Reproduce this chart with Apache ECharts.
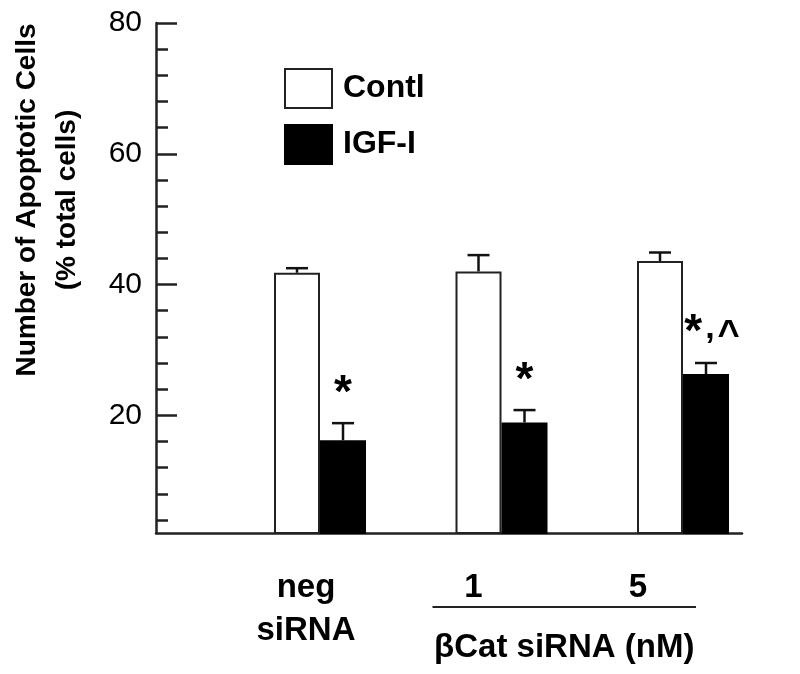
<!DOCTYPE html>
<html><head><meta charset="utf-8">
<script src="https://cdn.jsdelivr.net/npm/echarts@6/dist/echarts.min.js"></script>
<style>html,body{margin:0;padding:0;background:#fff}#c{width:800px;height:674px}</style>
</head><body><div id="c"></div>
<script>
// ---- data ----
const groupLabels = ['neg\nsiRNA', '1', '5'];
const groupPos = [1, 2, 3];
const seriesNames = ['Contl', 'IGF-I'];
const contlValues = [41.8, 42.0, 43.6];
const contlErrors = [0.7, 2.5, 1.3];
const igfValues = [16.2, 18.9, 26.3];
const igfErrors = [2.6, 1.9, 1.7];
const igfMarks = ['*', '*', '*,^'];
const yMajorTicks = [20, 40, 60, 80];
const yMinorTicks = [4, 8, 12, 16, 24, 28, 32, 36, 44, 48, 52, 56, 64, 68, 72, 76];
const groupTitle = 'βCat siRNA (nM)';
const yTitle = 'Number of Apoptotic Cells\n(% total cells)';

// ---- layout ----
const FONT = '"Liberation Sans", Arial, Helvetica, sans-serif';
const BAR_W = 46;
const chart = echarts.init(document.getElementById('c'), null, {renderer: 'canvas'});

const measureCtx = document.createElement('canvas').getContext('2d');
function charWidth(ch, size) {
  measureCtx.font = 'bold ' + size + 'px ' + FONT;
  return measureCtx.measureText(ch).width;
}
// glyph styling of the significance marks
const markSize = {'*': 46, '^': 38};
const markRaise = {',': 9};
const markGap = 3;

function errRender(offset) {
  return function (params, api) {
    const x = api.value(0), v = api.value(1), e = api.value(2);
    const p0 = api.coord([x, v]);
    const p1 = api.coord([x, v + e]);
    const cx = p0[0] + offset;
    return {
      type: 'group',
      children: [
        {type: 'line', shape: {x1: cx, y1: p0[1], x2: cx, y2: p1[1]}, style: {stroke: '#111', lineWidth: 2.5}},
        {type: 'line', shape: {x1: cx - 11, y1: p1[1], x2: cx + 11, y2: p1[1]}, style: {stroke: '#111', lineWidth: 2.5}}
      ]
    };
  };
}

function markRender(params, api) {
  const x = api.value(0), top = api.value(1) + api.value(2);
  const p = api.coord([x, top]);
  const chars = igfMarks[params.dataIndex].split('');
  const sizes = chars.map(c => markSize[c] || 34);
  const widths = chars.map((c, i) => charWidth(c, sizes[i]));
  const total = widths.reduce((a, b) => a + b, 0) + markGap * (chars.length - 1);
  const baseline = p[1] - 16;
  let cur = p[0] + BAR_W / 2 - total / 2 + (chars.length > 1 ? 6 : 0);
  const children = chars.map((c, i) => {
    const el = {
      type: 'text', x: cur, y: baseline + 0.212 * sizes[i] - (markRaise[c] || 0),
      style: {text: c, fontSize: sizes[i], fontWeight: 'bold', fontFamily: FONT, fill: '#000',
              align: 'left', verticalAlign: 'bottom'}
    };
    cur += widths[i] + markGap;
    return el;
  });
  return {type: 'group', children: children};
}

const option = {
  animation: false,
  backgroundColor: '#fff',
  grid: {left: 156, right: 58, top: 23, bottom: 674 - 533},
  legend: {
    data: seriesNames,
    orient: 'vertical', left: 279, top: 63,
    itemWidth: 47, itemHeight: 39, itemGap: 15,
    icon: 'rect',
    textStyle: {fontSize: 32, fontWeight: 'bold', color: '#000', fontFamily: FONT, padding: [0, 0, 0, 6]}
  },
  xAxis: {
    type: 'value', min: 0.0964, max: 3.325,
    axisLine: {show: true, lineStyle: {color: '#222', width: 2.5}},
    axisTick: {show: false}, axisLabel: {show: false}, splitLine: {show: false}
  },
  yAxis: [
    {
      type: 'value', min: 2, max: 80, position: 'left',
      axisLine: {show: true, lineStyle: {color: '#222', width: 2.5}},
      axisTick: {show: true, inside: true, length: 12, customValues: yMinorTicks, lineStyle: {color: '#222', width: 2.5}},
      axisLabel: {show: false}, splitLine: {show: false}
    },
    {
      type: 'value', min: 2, max: 80, position: 'left', offset: 0,
      axisLine: {show: false},
      axisTick: {show: true, inside: true, length: 21, customValues: yMajorTicks, lineStyle: {color: '#222', width: 2.5}},
      axisLabel: {show: true, customValues: yMajorTicks, fontSize: 30, color: '#000', fontFamily: FONT, margin: 14},
      splitLine: {show: false}
    }
  ],
  series: [
    {
      name: seriesNames[0], type: 'bar', barWidth: BAR_W, barGap: '0%',
      data: groupPos.map((x, i) => [x, contlValues[i]]),
      itemStyle: {color: '#fff', borderColor: '#222', borderWidth: 2}, z: 2
    },
    {
      name: seriesNames[1], type: 'bar', barWidth: BAR_W, barGap: '0%',
      data: groupPos.map((x, i) => [x, igfValues[i]]),
      itemStyle: {color: '#000', borderColor: '#000', borderWidth: 2}, z: 2
    },
    {
      type: 'custom', renderItem: errRender(-BAR_W / 2), z: 3,
      data: groupPos.map((x, i) => [x, contlValues[i], contlErrors[i]])
    },
    {
      type: 'custom', renderItem: errRender(BAR_W / 2), z: 3,
      data: groupPos.map((x, i) => [x, igfValues[i], igfErrors[i]])
    },
    {
      type: 'custom', renderItem: markRender, z: 4, clip: false,
      data: groupPos.map((x, i) => [x, igfValues[i], igfErrors[i]])
    }
  ]
};
chart.setOption(option);

// text below the axis, placed relative to the group positions
const labelShift = [-14, -28, -45];
const graphics = groupLabels.map((t, i) => {
  const px = chart.convertToPixel({xAxisIndex: 0}, groupPos[i]) + labelShift[i];
  return {
    type: 'text', x: px, y: 566,
    style: {text: t, fontSize: 33, fontWeight: 'bold', fontFamily: FONT, fill: '#000',
            align: 'center', verticalAlign: 'top', lineHeight: 43}
  };
});
const x1 = chart.convertToPixel({xAxisIndex: 0}, groupPos[1]);
const x2 = chart.convertToPixel({xAxisIndex: 0}, groupPos[2]);
graphics.push({type: 'line', shape: {x1: x1 - 69, y1: 607, x2: x2 + 13, y2: 607}, style: {stroke: '#222', lineWidth: 2}});
graphics.push({
  type: 'text', x: (x1 - 69 + x2 + 13) / 2, y: 648,
  style: {text: groupTitle, fontSize: 33, fontWeight: 'bold', fontFamily: FONT, fill: '#000', align: 'center', verticalAlign: 'middle'}
});
graphics.push({
  type: 'text', x: 47, y: 200, rotation: Math.PI / 2,
  style: {text: yTitle, fontSize: 28, fontWeight: 'bold', fontFamily: FONT, fill: '#000',
          align: 'center', verticalAlign: 'middle', lineHeight: 40}
});
chart.setOption({graphic: graphics});
</script>
</body></html>
